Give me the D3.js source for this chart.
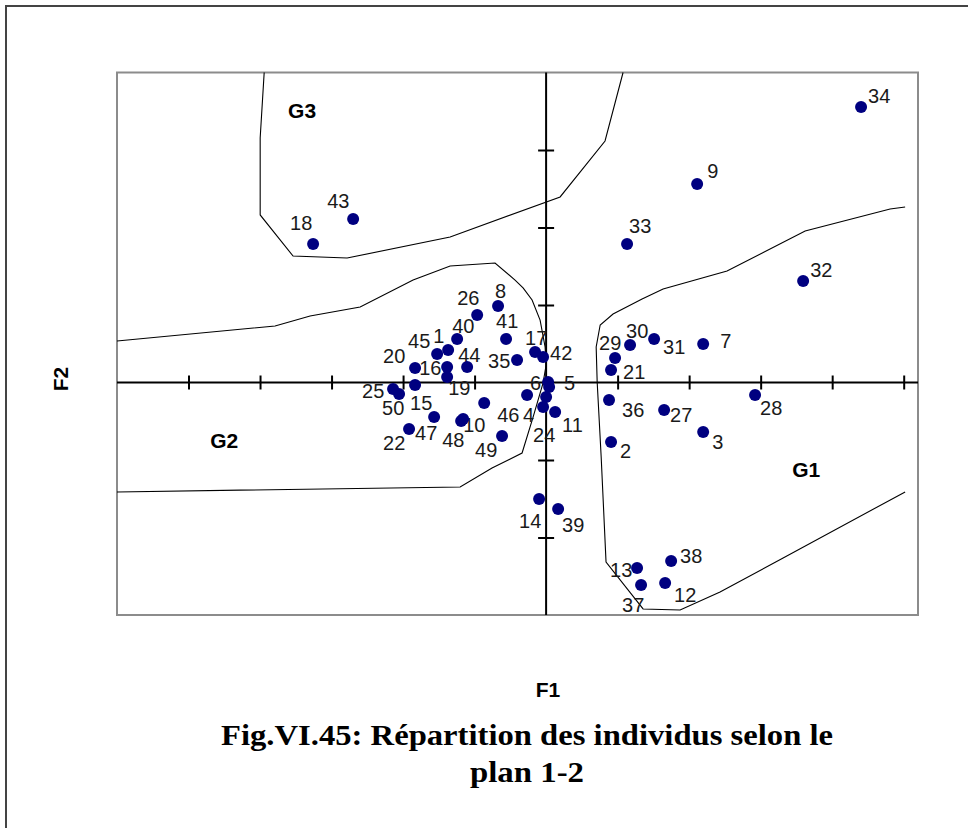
<!DOCTYPE html>
<html>
<head>
<meta charset="utf-8">
<script src="https://cdn.jsdelivr.net/npm/d3@7"></script>
<style>
  body { margin: 0; background: #fff; }
  svg { display: block; }
</style>
</head>
<body>
<svg id="chart" width="968" height="828"></svg>
<script>
// individuals on the factorial plane (F1, F2)
var ids = [1,2,3,4,5,6,7,8,9,10,11,12,13,14,15,16,17,18,19,20,21,22,23,24,25,
           26,27,28,29,30,31,32,33,34,35,36,37,38,39,40,41,42,43,44,45,46,47,48,49,50];
var f1 = [-0.685,0.454,1.098,-0.133,0.021,0.014,1.098,-0.336,1.056,-0.580,
          0.063,0.832,0.636,-0.049,-0.916,-0.692,-0.077,-1.629,-0.692,-0.916,
          0.454,-0.958,0.000,-0.021,-1.070,-0.482,0.825,1.461,0.482,0.587,
          0.755,1.797,0.566,2.202,-0.203,0.440,0.664,0.874,0.084,-0.622,
          -0.280,-0.021,-1.349,-0.552,-0.762,-0.433,-0.783,-0.594,-0.308,-1.028];
var f2 = [0.210,-0.384,-0.319,-0.081,-0.029,0.003,0.248,0.494,1.281,-0.235,
          -0.190,-1.294,-1.197,-0.752,-0.016,0.100,0.197,0.894,0.035,0.094,
          0.081,-0.300,-0.094,-0.158,-0.042,0.435,-0.177,-0.081,0.158,0.242,
          0.281,0.655,0.894,1.777,0.145,-0.113,-1.306,-1.152,-0.816,0.281,
          0.281,0.165,1.055,0.100,0.184,-0.132,-0.223,-0.248,-0.345,-0.074];

// hand drawn group boundaries (F1, F2)
var borderG3 = [[-1.971,2.0],[-1.999,1.577],[-1.999,1.081],[-1.769,0.816],[-1.391,0.803],
                [-0.671,0.939],[0.098,1.197],[0.412,1.558],[0.538,2.0]];
var borderG2 = [[-3.0,0.268],[-1.895,0.365],[-1.650,0.429],[-1.300,0.487],[-0.930,0.661],
                [-0.671,0.752],[-0.357,0.771],[-0.217,0.661],[-0.161,0.610],[-0.098,0.532],
                [-0.042,0.403],[-0.007,0.229],[0.0,0.113],[-0.021,-0.003],[-0.091,-0.223],
                [-0.168,-0.455],[-0.378,-0.552],[-0.601,-0.674],[-3.0,-0.706]];
var borderG1 = [[2.510,1.132],[2.405,1.119],[1.811,0.977],[1.265,0.719],[0.818,0.603],
                [0.671,0.539],[0.468,0.442],[0.378,0.371],[0.350,0.229],[0.357,0.003],
                [0.385,-0.481],[0.419,-1.158],[0.678,-1.461],[0.937,-1.468],[1.216,-1.352],
                [1.657,-1.132],[2.510,-0.706]];

var groupNames = ["G3","G2","G1"];
var groupF1 = [-1.706,-2.251,1.818];
var groupF2 = [1.745,-0.390,-0.577];

var xTicks = [-2.5,-2,-1.5,-1,-0.5,0.5,1,1.5,2,2.5];
var yTicks = [-1,-0.5,0.5,1,1.5];

// label offsets in px from the dot (text start, baseline)
var labelOffset = {
  1:[-15,-7], 2:[9,16], 3:[9,17], 4:[-4,27], 5:[15,3], 6:[-18,8], 7:[17,4], 8:[-3,-8],
  9:[10,-6], 10:[0,13], 11:[7,20], 12:[9,19], 13:[-27,9], 14:[-20,29], 15:[-5,25],
  16:[-28,8], 17:[-10,-7], 18:[-23,-14], 19:[1,18], 20:[-32,-5], 21:[12,9], 22:[-26,21],
  24:[-10,35], 25:[-31,9], 26:[-20,-10], 27:[6,12], 28:[5,20], 29:[-16,-8], 30:[-4,-7],
  31:[9,15], 32:[7,-4], 33:[2,-11], 34:[7,-4], 35:[-29,8], 36:[13,17], 37:[-19,27],
  38:[9,2], 39:[4,23], 40:[-5,-6], 41:[-10,-11], 42:[7,3], 43:[-26,-11], 44:[-9,-5],
  45:[-29,-6], 46:[13,19], 47:[-19,23], 48:[-19,26], 49:[-27,21], 50:[-17,21]
};

var svg = d3.select("#chart");

var plot = {left: 117, right: 918, top: 72.5, bottom: 615};

var x = d3.scaleLinear().domain([-3, 2.6]).range([plot.left, plot.right]);
var y = d3.scaleLinear().domain([-1.5, 2]).range([plot.bottom, plot.top]);

// outer frame
svg.append("rect")
    .attr("x", 6).attr("y", 6)
    .attr("width", 1000).attr("height", 900)
    .attr("fill", "none")
    .attr("stroke", "#444")
    .attr("stroke-width", 2);

// plot area
svg.append("rect")
    .attr("x", plot.left).attr("y", plot.top)
    .attr("width", plot.right - plot.left)
    .attr("height", plot.bottom - plot.top)
    .attr("fill", "#fff")
    .attr("stroke", "#8c8c8c")
    .attr("stroke-width", 2);

// boundaries
var line = d3.line()
    .x(function(d) { return x(d[0]); })
    .y(function(d) { return y(d[1]); });

[borderG3, borderG2, borderG1].forEach(function(b) {
  svg.append("path")
      .datum(b)
      .attr("d", line)
      .attr("fill", "none")
      .attr("stroke", "#000")
      .attr("stroke-width", 1.1);
});

// axes through the origin
var xAxis = svg.append("g")
    .attr("transform", "translate(0," + y(0) + ")")
    .call(d3.axisBottom(x).tickValues(xTicks).tickSize(0).tickFormat(""));
xAxis.select(".domain").remove();
xAxis.append("line")
    .attr("x1", plot.left).attr("x2", plot.right)
    .attr("stroke", "#000").attr("stroke-width", 2);
xAxis.selectAll(".tick line")
    .attr("y1", -7).attr("y2", 7)
    .attr("stroke", "#000").attr("stroke-width", 2);

var yAxis = svg.append("g")
    .attr("transform", "translate(" + x(0) + ",0)")
    .call(d3.axisLeft(y).tickValues(yTicks).tickSize(0).tickFormat(""));
yAxis.select(".domain").remove();
yAxis.append("line")
    .attr("y1", plot.top).attr("y2", plot.bottom)
    .attr("stroke", "#000").attr("stroke-width", 2);
yAxis.selectAll(".tick line")
    .attr("x1", -8).attr("x2", 8)
    .attr("stroke", "#000").attr("stroke-width", 2);

var data = ids.map(function(id, i) { return {id: id, f1: f1[i], f2: f2[i]}; });

// point labels (under the dots)
svg.append("g")
  .selectAll("text")
  .data(data.filter(function(d) { return labelOffset[d.id]; }))
  .enter().append("text")
    .attr("x", function(d) { return x(d.f1) + labelOffset[d.id][0]; })
    .attr("y", function(d) { return y(d.f2) + labelOffset[d.id][1]; })
    .attr("font-family", "'Liberation Sans', Arial, sans-serif")
    .attr("font-size", 20)
    .attr("fill", "#1a1a1a")
    .text(function(d) { return d.id; });

svg.append("g")
  .selectAll("circle")
  .data(data)
  .enter().append("circle")
    .attr("cx", function(d) { return x(d.f1); })
    .attr("cy", function(d) { return y(d.f2); })
    .attr("r", 6)
    .attr("fill", "#000080");

// group names
groupNames.forEach(function(g, i) {
  svg.append("text")
      .attr("x", x(groupF1[i]))
      .attr("y", y(groupF2[i]))
      .attr("text-anchor", "middle")
      .attr("dominant-baseline", "middle")
      .attr("font-family", "'Liberation Sans', Arial, sans-serif")
      .attr("font-weight", "bold")
      .attr("font-size", 21)
      .text(g);
});

// axis titles
svg.append("text")
    .attr("x", 548).attr("y", 697)
    .attr("text-anchor", "middle")
    .attr("font-family", "'Liberation Sans', Arial, sans-serif")
    .attr("font-weight", "bold")
    .attr("font-size", 21)
    .text("F1");

svg.append("text")
    .attr("transform", "translate(68,379) rotate(-90)")
    .attr("text-anchor", "middle")
    .attr("font-family", "'Liberation Sans', Arial, sans-serif")
    .attr("font-weight", "bold")
    .attr("font-size", 21)
    .text("F2");

// caption
var caption = svg.append("text")
    .attr("text-anchor", "middle")
    .attr("font-family", "'Liberation Serif', 'Times New Roman', serif")
    .attr("font-weight", "bold")
    .attr("font-size", 29);
caption.append("tspan").attr("x", 527).attr("y", 745)
    .attr("textLength", 612).attr("lengthAdjust", "spacingAndGlyphs")
    .text("Fig.VI.45: Répartition des individus selon le");
caption.append("tspan").attr("x", 527).attr("y", 782)
    .attr("textLength", 114).attr("lengthAdjust", "spacingAndGlyphs")
    .text("plan 1-2");
</script>
</body>
</html>
